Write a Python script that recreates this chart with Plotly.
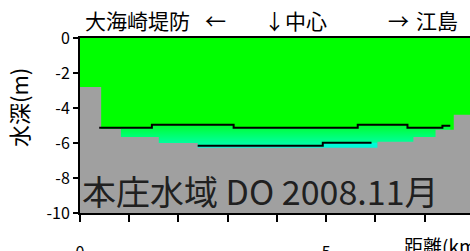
import plotly.graph_objects as go

# ---- data ----
# bottom profile (step: segment start distance km, depth m)
bottom_dist = [0.0, 0.43, 0.83, 1.60, 2.39, 6.04, 6.77, 7.22, 7.59, 8.0]
bottom_depth = [-2.8, -5.2, -5.65, -6.0, -6.27, -5.93, -5.65, -5.24, -4.38, -4.38]

# DO isolines (step lines)
iso1_dist = [0.39, 1.46, 3.12, 5.64, 6.65, 7.36, 7.52]
iso1_depth = [-5.13, -4.96, -5.13, -4.96, -5.13, -5.01, -5.01]
iso2_dist = [2.39, 4.93, 5.92, 6.04]
iso2_depth = [-6.16, -5.99, -5.99, -5.99]

x_tick_vals = [0, 1, 2, 3, 4, 5, 6, 7]
x_tick_text = ["0", "", "", "", "", "5", "", ""]
y_tick_vals = [0, -2, -4, -6, -8, -10]
y_tick_text = ["0", "-2", "-4", "-6", "-8", "-10"]

title_text = "本庄水域 DO 2008.11月"
y_title = "水深(m)"
x_title = "距離(km)"
top_texts = ["大海崎堤防", "←", "↓中心", "→", "江島"]

X_MAX = 7.92
Y_MIN = -10

FONT = "Noto Sans CJK JP, Liberation Sans, sans-serif"

fig = go.Figure()

# lower water layer (gradient below upper isoline)
fig.add_trace(go.Scatter(
    x=iso1_dist + [iso1_dist[-1], iso1_dist[0]],
    y=iso1_depth + [Y_MIN, Y_MIN],
    mode="lines", line=dict(width=0, shape="hv"),
    fill="toself",
    fillgradient=dict(type="vertical",
                      colorscale=[[0, "rgb(0,255,190)"], [1, "rgb(0,255,50)"]],
                      start=-6.3, stop=-5.0),
    hoverinfo="skip", showlegend=False))

# deepest layer (below lower isoline)
fig.add_trace(go.Scatter(
    x=iso2_dist + [iso2_dist[-1], iso2_dist[0]],
    y=iso2_depth + [Y_MIN, Y_MIN],
    mode="lines", line=dict(width=0, shape="hv"),
    fill="toself", fillcolor="rgb(0,250,215)",
    hoverinfo="skip", showlegend=False))

# bottom (gray)
fig.add_trace(go.Scatter(
    x=bottom_dist + [bottom_dist[-1], bottom_dist[0]],
    y=bottom_depth + [Y_MIN, Y_MIN],
    mode="lines", line=dict(width=0, shape="hv"),
    fill="toself", fillcolor="rgb(160,160,160)",
    hoverinfo="skip", showlegend=False))

# isolines
for xs, ys in [(iso1_dist, iso1_depth), (iso2_dist[:-1], iso2_depth[:-1])]:
    fig.add_trace(go.Scatter(
        x=xs, y=ys, mode="lines",
        line=dict(color="black", width=2, shape="hv"),
        hoverinfo="skip", showlegend=False))


def top_label(text, px, size):
    return dict(text=text, xref="paper", yref="paper", x=0, y=1.0,
                xanchor="left", yanchor="middle", xshift=px - 80, yshift=18,
                showarrow=False, font=dict(family=FONT, size=size, color="black"))


annotations = [
    dict(text=title_text, xref="paper", yref="paper", x=0, y=0.131,
         xanchor="left", yanchor="middle", xshift=0, showarrow=False,
         font=dict(family=FONT, size=34, color="#202020")),
    dict(text=y_title, xref="paper", yref="paper", x=0, y=0.6,
         xanchor="center", yanchor="middle", xshift=-62, textangle=-90,
         showarrow=False, font=dict(family=FONT, size=22, color="black")),
    dict(text=x_title, xref="paper", yref="paper", x=0, y=0,
         xanchor="left", yanchor="top", xshift=322, yshift=-17, showarrow=False,
         font=dict(family=FONT, size=19, color="black")),
    top_label(top_texts[0], 83, 21),
    top_label(top_texts[1], 203, 21),
    top_label(top_texts[2], 262, 21),
    top_label(top_texts[3], 386, 21),
    top_label(top_texts[4], 414, 21),
]

fig.update_layout(
    width=470, height=251,
    margin=dict(l=80, r=0, t=38, b=38, autoexpand=False),
    paper_bgcolor="white", plot_bgcolor="rgb(0,255,0)",
    font=dict(family=FONT, size=16, color="black"),
    annotations=annotations,
    xaxis=dict(range=[0, X_MAX], tickvals=x_tick_vals, ticktext=x_tick_text,
               ticks="outside", ticklen=7, tickwidth=2, tickcolor="black",
               showline=True, linewidth=2, linecolor="black", mirror=True,
               showgrid=False, zeroline=False, ticklabelstandoff=17,
               automargin=False, tickfont=dict(size=16)),
    yaxis=dict(range=[Y_MIN, 0], tickvals=y_tick_vals, ticktext=y_tick_text,
               ticks="outside", ticklen=5, tickwidth=2, tickcolor="black",
               showline=True, linewidth=2, linecolor="black", mirror=False,
               showgrid=False, zeroline=False, automargin=False,
               tickfont=dict(size=16)),
)

# place the figure at the page's top-left corner with no scrollbars
fig.write_html(
    "out.html",
    config={"displayModeBar": False, "staticPlot": True},
    post_script="document.body.style.margin='0';"
                "document.documentElement.style.overflow='hidden';"
                "document.body.style.overflow='hidden';",
)
